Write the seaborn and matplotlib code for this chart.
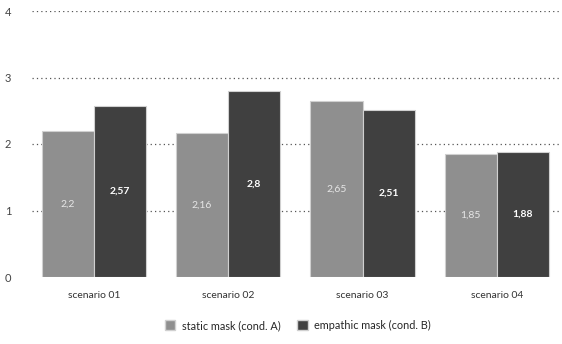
import pandas as pd
import matplotlib
matplotlib.use("Agg")
import matplotlib.pyplot as plt
import seaborn as sns
from matplotlib.patches import Patch

# Dados
scenarios = ["scenario 01", "scenario 02", "scenario 03", "scenario 04"]
conditions = ["static mask (cond. A)", "empathic mask (cond. B)"]
static_vals = [2.2, 2.16, 2.65, 1.85]
empathic_vals = [2.57, 2.8, 2.51, 1.88]
colors = ["#8f8f8f", "#404040"]

df = pd.DataFrame({
    "scenario": scenarios * 2,
    "condition": [conditions[0]] * 4 + [conditions[1]] * 4,
    "value": static_vals + empathic_vals,
})

sns.set_style("white")
plt.rcParams["font.family"] = ["Lato", "DejaVu Sans"]

fig = plt.figure(figsize=(5.62, 3.44), dpi=100)
ax = fig.add_axes([32 / 562, 67 / 344, 528 / 562, 266 / 344])

sns.barplot(data=df, x="scenario", y="value", hue="condition",
            palette=colors, width=0.776, edgecolor="#d0d0d0", linewidth=0.8,
            legend=False, ax=ax)

ax.set_ylim(0, 4)
ax.set_xlim(-0.46, 3.47)
ax.set_yticks([0, 1, 2, 3, 4])
ax.set_xlabel("")
ax.set_ylabel("")
ax.grid(axis="y", linestyle=(0, (1, 2.5)), color="#555555", linewidth=0.9)
ax.set_axisbelow(True)
ax.get_ygridlines()[0].set_visible(False)
for s in ax.spines.values():
    s.set_visible(False)
ax.tick_params(axis="y", length=0, pad=15, labelsize=8, colors="#444444")
ax.tick_params(axis="x", length=0, pad=10, labelsize=7.5, colors="#333333")

# Rótulos no meio das barras
label_colors = ["#e6e6e6", "#ffffff"]
weights = ["normal", "bold"]
for cont, vals, c, w in zip(ax.containers, [static_vals, empathic_vals], label_colors, weights):
    ax.bar_label(cont, labels=[str(v).replace(".", ",") for v in vals],
                 label_type="center", color=c, fontsize=7.5, fontweight=w)

handles = [Patch(facecolor=colors[0], edgecolor="#d0d0d0"),
           Patch(facecolor=colors[1], edgecolor="#d0d0d0")]
fig.legend(handles, conditions, loc="lower center", bbox_to_anchor=(0.53, 0.01),
           ncol=2, frameon=False, fontsize=7.8, handlelength=1.0, handleheight=1.0,
           columnspacing=1.5, handletextpad=0.6)

plt.savefig("out.png", dpi=100)
